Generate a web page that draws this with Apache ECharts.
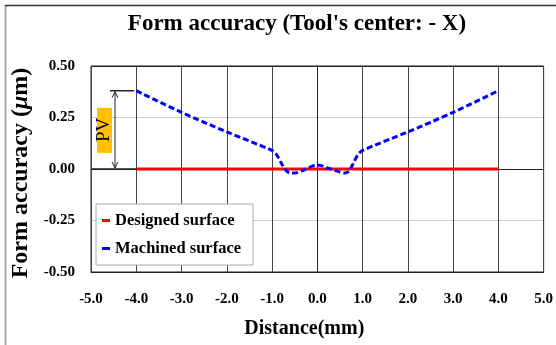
<!DOCTYPE html>
<html><head><meta charset="utf-8">
<script src="https://cdn.jsdelivr.net/npm/echarts@6/dist/echarts.min.js"></script>
<style>html,body{margin:0;padding:0;background:#fff}#c{width:556px;height:345px}</style>
</head><body><div id="c"></div>
<script>
const titleText = "Form accuracy (Tool's center: - X)";
const xTicks = [-5, 5, 1];
const yTicks = [-0.5, 0.5, 0.25];
const designedX = [-4, 4];
const designedY = [0, 0];
const machinedX = [-4, -3, -2, -1, -0.9, -0.8, -0.7, -0.6, -0.5, -0.3, 0, 0.3, 0.5, 0.6, 0.7, 0.8, 0.9, 1, 2, 3, 4];
const machinedY = [0.38, 0.275, 0.18, 0.09, 0.07, 0.03, -0.005, -0.02, -0.02, -0.005, 0.02, 0.0, -0.015, -0.02, -0.01, 0.03, 0.07, 0.09, 0.18, 0.275, 0.38];
const seriesNames = ['Designed surface', 'Machined surface'];

const FONT = '"Liberation Serif", "Times New Roman", serif';
const chart = echarts.init(document.getElementById('c'));
const zip = (xs, ys) => xs.map((x, i) => [x, ys[i]]);

chart.setOption({
  animation: false,
  backgroundColor: '#fff',
  title: {
    text: titleText, left: 292, top: 8, textAlign: 'center',
    textStyle: { fontFamily: FONT, fontWeight: 'bold', fontSize: 23, color: '#000' }
  },
  grid: { left: 91, right: 12, top: 66, bottom: 73, show: true, borderColor: '#222', borderWidth: 1 },
  legend: {
    orient: 'vertical', left: 96, top: 204,
    backgroundColor: '#fff', borderColor: '#aaa', borderWidth: 1,
    padding: [8, 12, 8, 6], itemGap: 11,
    icon: 'rect', itemWidth: 8, itemHeight: 3,
    textStyle: { fontFamily: FONT, fontWeight: 'bold', fontSize: 16.5, color: '#000' },
    data: seriesNames
  },
  xAxis: {
    type: 'value', min: xTicks[0], max: xTicks[1], interval: xTicks[2],
    name: 'Distance(mm)', nameLocation: 'middle', nameGap: 47,
    nameTextStyle: { fontFamily: FONT, fontWeight: 'bold', fontSize: 20, color: '#000', padding: [0, 26, 0, 0] },
    axisLine: { onZero: false, lineStyle: { color: '#222' } },
    axisTick: { show: false },
    axisLabel: { margin: 20, fontFamily: FONT, fontWeight: 'bold', fontSize: 15, color: '#000', formatter: v => v.toFixed(1) },
    splitLine: { show: true, lineStyle: { color: '#444', width: 1 } }
  },
  yAxis: {
    type: 'value', min: yTicks[0], max: yTicks[1], interval: yTicks[2],
    name: '{n|Form accuracy (}{i|μ}{n|m)}', nameLocation: 'middle', nameGap: 54, nameRotate: 90,
    nameTextStyle: {
      padding: [0, 8, 0, 0],
      rich: {
        n: { fontFamily: FONT, fontWeight: 'bold', fontSize: 24, color: '#000' },
        i: { fontFamily: FONT, fontWeight: 'bold', fontStyle: 'italic', fontSize: 24, color: '#000' }
      }
    },
    axisLine: { show: true, lineStyle: { color: '#222' } },
    axisTick: { show: false },
    axisLabel: { margin: 16, fontFamily: FONT, fontWeight: 'bold', fontSize: 15, color: '#000', formatter: v => v.toFixed(2) },
    splitLine: { show: true, lineStyle: { color: ['#222', '#ccc', '#222', '#ccc', '#222'], width: 1 } }
  },
  series: [
    { name: seriesNames[0], type: 'line', data: zip(designedX, designedY), symbol: 'none', z: 3,
      lineStyle: { color: '#ff0000', width: 3 }, itemStyle: { color: '#ff0000' } },
    { name: seriesNames[1], type: 'line', data: zip(machinedX, machinedY), symbol: 'none', smooth: 0.3, z: 4,
      lineStyle: { color: '#0000ff', width: 3, type: [6, 3] }, itemStyle: { color: '#0000ff' } }
  ]
});

// PV annotation placed from data values
const pvTop = Math.max(...machinedY);
const pTop = chart.convertToPixel({ gridIndex: 0 }, [machinedX[0], pvTop]);
const pZero = chart.convertToPixel({ gridIndex: 0 }, [machinedX[0], 0]);
const gridLeft = chart.convertToPixel({ gridIndex: 0 }, [xTicks[0], 0])[0];
const ax = gridLeft + 24, yT = pTop[1], yB = pZero[1];
const lineSt = { stroke: '#222', lineWidth: 1.5 };
chart.setOption({
  graphic: [
    { type: 'line', shape: { x1: 5.5, y1: 5, x2: 5.5, y2: 345 }, style: { stroke: '#aaa', lineWidth: 2 }, silent: true },
    { type: 'line', shape: { x1: 5, y1: 5.5, x2: 556, y2: 5.5 }, style: { stroke: '#333', lineWidth: 1.5 }, silent: true },
    { type: 'line', shape: { x1: gridLeft + 19, y1: yT, x2: pTop[0] - 2, y2: yT }, style: lineSt, silent: true, z: 10 },
    { type: 'line', shape: { x1: gridLeft, y1: yB, x2: pTop[0], y2: yB }, style: lineSt, silent: true, z: 10 },
    { type: 'line', shape: { x1: ax, y1: yT + 1, x2: ax, y2: yB - 1 }, style: { stroke: '#222', lineWidth: 1 }, silent: true, z: 10 },
    { type: 'polyline', shape: { points: [[ax - 3, yT + 7], [ax, yT + 1], [ax + 3, yT + 7]] }, style: { stroke: '#222', lineWidth: 1, fill: null }, silent: true, z: 10 },
    { type: 'polyline', shape: { points: [[ax - 3, yB - 7], [ax, yB - 1], [ax + 3, yB - 7]] }, style: { stroke: '#222', lineWidth: 1, fill: null }, silent: true, z: 10 },
    { type: 'rect', shape: { x: gridLeft + 6, y: (yT + yB) / 2 - 22, width: 15, height: 45 }, style: { fill: '#ffc000' }, silent: true, z: 10 },
    { type: 'text', x: gridLeft + 13.5, y: (yT + yB) / 2, rotation: Math.PI / 2,
      style: { text: 'PV', fontFamily: FONT, fontSize: 19, fill: '#000', align: 'center', verticalAlign: 'middle' }, silent: true, z: 11 }
  ]
});
</script>
</body></html>
